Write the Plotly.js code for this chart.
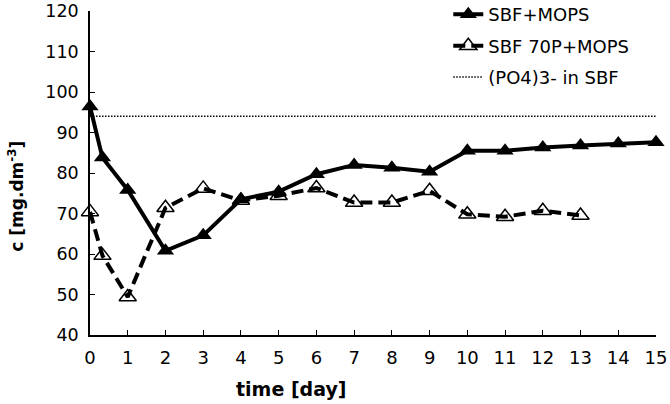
<!DOCTYPE html>
<html>
<head>
<meta charset="utf-8">
<script src="https://cdn.plot.ly/plotly-3.0.1.min.js"></script>
<style>
  body { margin: 0; background: #fff; }
  #chart { width: 670px; height: 404px; }
</style>
</head>
<body>
<div id="chart"></div>
<script>
// データ
const days1 = [0, 0.33, 1, 2, 3, 4, 5, 6, 7, 8, 9, 10, 11, 12, 13, 14, 15];
const sbfMops = [96.4, 83.8, 75.8, 60.8, 64.6, 73.5, 75.4, 79.7, 82, 81.3, 80.3, 85.5, 85.5, 86.3, 86.8, 87.3, 87.6];

const days2 = [0, 0.33, 1, 2, 3, 4, 5, 6, 7, 8, 9, 10, 11, 12, 13];
const sbf70p = [70.4, 59.6, 49.4, 71.4, 76.2, 73.2, 74.4, 76.3, 72.7, 72.7, 75.6, 69.8, 69.2, 70.7, 69.5];

const refDays = [0, 15];
const po4Level = 94;

const xTicks = [0, 1, 2, 3, 4, 5, 6, 7, 8, 9, 10, 11, 12, 13, 14, 15];

const black = '#000';
const fontFam = 'DejaVu Sans, Arial, sans-serif';

let trace1 = {
  x: days1,
  y: sbfMops,
  type: 'scatter',
  mode: 'lines+markers',
  name: 'SBF+MOPS',
  legendgroup: 'a',
  line: { color: black, width: 4 },
  marker: { symbol: 'triangle-up', size: 15, color: black },
  cliponaxis: false,
};

let trace2 = {
  x: days2,
  y: sbf70p,
  type: 'scatter',
  mode: 'lines+markers',
  name: 'SBF 70P+MOPS',
  legendgroup: 'b',
  line: { color: black, width: 4, dash: '12px,6px' },
  marker: { symbol: 'triangle-up-open', size: 15, color: black, line: { width: 1.5 } },
  cliponaxis: false,
};

let trace3 = {
  x: refDays,
  y: [po4Level, po4Level],
  type: 'scatter',
  mode: 'lines',
  name: '(PO4)3- in SBF',
  legendgroup: 'c',
  line: { color: black, width: 1.5, dash: '1.5px,1.5px' },
};

let layout = {
  width: 670,
  height: 404,
  margin: { l: 90, r: 14, t: 11, b: 69, autoexpand: false },
  paper_bgcolor: '#fff',
  plot_bgcolor: '#fff',
  font: { family: fontFam, color: black, size: 17 },
  showlegend: true,
  legend: {
    x: 0.633, y: 1.046,
    xanchor: 'left', yanchor: 'top',
    font: { size: 18 },
    tracegroupgap: 5,
    bgcolor: 'rgba(0,0,0,0)',
  },
  xaxis: {
    range: [0, 15],
    tickvals: xTicks,
    showgrid: false,
    zeroline: false,
    showline: true,
    linecolor: black,
    linewidth: 1.5,
    ticks: 'inside',
    ticklen: 5,
    tickcolor: black,
    tickfont: { size: 18 },
    ticklabelstandoff: 6,
    ticklabeloverflow: 'allow',
  },
  yaxis: {
    range: [40, 120],
    dtick: 10,
    showgrid: false,
    zeroline: false,
    showline: true,
    linecolor: black,
    linewidth: 1.5,
    ticks: 'inside',
    ticklen: 5,
    tickcolor: black,
    tickfont: { size: 17.5 },
    ticklabelstandoff: 6,
    ticklabeloverflow: 'allow',
  },
  // 軸タイトル（元図は中央からずれているため注釈で配置）
  annotations: [
    {
      text: '<b>time [day]</b>',
      xref: 'paper', yref: 'paper',
      x: (291 - 90) / 566, y: -0.166,
      xanchor: 'center', yanchor: 'middle',
      showarrow: false,
      font: { size: 19 },
    },
    {
      text: '<b>c [mg.dm<sup>-3</sup>]</b>',
      xref: 'paper', yref: 'paper',
      x: (16 - 90) / 566, y: 0.43,
      xanchor: 'center', yanchor: 'middle',
      textangle: -90,
      showarrow: false,
      font: { size: 17 },
    },
  ],
};

Plotly.newPlot('chart', [trace1, trace2, trace3], layout, { displayModeBar: false });
</script>
</body>
</html>
